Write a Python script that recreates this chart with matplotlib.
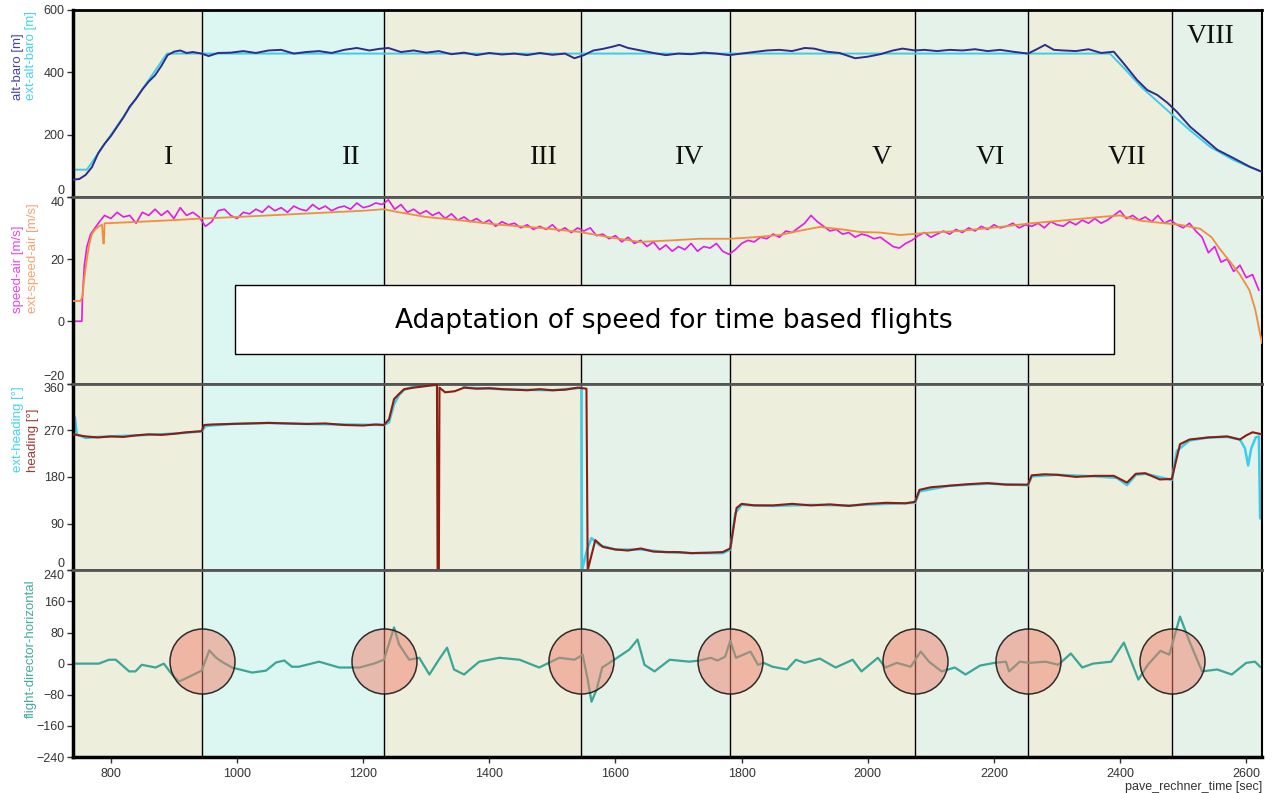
import numpy as np
import matplotlib
matplotlib.use('Agg')
import matplotlib.pyplot as plt
from matplotlib.patches import Rectangle

plt.rcParams['font.family'] = ['Liberation Sans', 'DejaVu Sans']

# ---- data ----
# phase boundaries [s] and phase names
bounds = [740, 944, 1233, 1546, 1782, 2075, 2254, 2482, 2625]
phase_names = ['I', 'II', 'III', 'IV', 'V', 'VI', 'VII', 'VIII']
phase_label_t = [892, 1181, 1487, 1717, 2022, 2194, 2411, 2543]
phase_label_v = [125, 125, 125, 125, 125, 125, 125, 514]

# altitude
t_ext_alt = [740, 762, 889, 2384, 2410, 2435, 2460, 2483, 2510, 2543, 2579, 2600, 2625]
ext_alt = [87, 87, 460, 460, 405, 350, 305, 263, 215, 160, 119, 100, 80]

t_alt = [740, 750, 760, 770, 780, 790, 800, 810, 820, 830,
         840, 850, 860, 870, 880, 890, 900, 910, 920, 930,
         944, 955, 970, 990, 1010, 1030, 1050, 1070, 1090, 1110,
         1130, 1150, 1170, 1190, 1210, 1225, 1240, 1260, 1280, 1300,
         1320, 1340, 1360, 1380, 1400, 1420, 1440, 1460, 1480, 1500,
         1520, 1535, 1550, 1565, 1580, 1595, 1606, 1620, 1640, 1660,
         1680, 1700, 1720, 1740, 1760, 1780, 1800, 1820, 1840, 1860,
         1880, 1900, 1915, 1935, 1955, 1980, 2000, 2020, 2040, 2055,
         2075, 2090, 2110, 2130, 2150, 2170, 2190, 2210, 2230, 2254,
         2268, 2281, 2295, 2310, 2330, 2350, 2370, 2390, 2405, 2427,
         2443, 2459, 2475, 2490, 2511, 2532, 2554, 2579, 2606, 2625]
alt = [55, 57, 70, 95, 140, 170, 195, 225, 255, 290,
       315, 345, 370, 390, 420, 455, 466, 470, 462, 465,
       460, 452, 462, 463, 468, 462, 470, 472, 460, 465,
       468, 462, 472, 478, 470, 475, 478, 465, 470, 463,
       468, 458, 463, 455, 462, 457, 460, 455, 462, 456,
       460, 445, 455, 470, 475, 482, 488, 478, 470, 462,
       455, 460, 458, 463, 460, 455, 460, 465, 470, 472,
       468, 478, 476, 466, 462, 445, 450, 458, 470, 476,
       470, 472, 468, 472, 470, 474, 468, 472, 466, 460,
       474, 488, 472, 470, 468, 474, 462, 466, 430, 375,
       343, 327, 302, 273, 225, 189, 151, 125, 96, 80]

# air speed
t_spd_start = [740, 754, 755, 758, 762, 768, 775, 782, 790]
spd_start = [0, 0, 8, 18, 24, 28, 30, 32, 34]
t_spd_grid = np.arange(800, 2621, 10)
spd_grid = ([33, 35, 33.5, 34, 31.5, 35, 34, 36, 34, 35.5, 33, 36.5, 34, 35, 33.5]
            + [30.5, 32, 35.5, 36, 34, 33, 35, 34.5, 36, 35, 37, 35.5, 36.5, 35, 37,
               36, 35.5, 37.5, 36, 37, 35.5, 36.5, 37, 36, 38, 36.5, 37, 38, 37.5]
            + [39, 36, 37.5, 35, 36, 34.5, 35.5, 34, 35, 33, 34.5, 32.5, 33.5, 32, 33,
               31.5, 32.5, 30.5, 32, 31, 31.5, 30, 31, 29.5, 30.5, 29.5, 31, 29, 30, 28.5, 30]
            + [29, 30, 27.5, 28, 26.5, 27.5, 25.5, 27, 25, 26, 24, 25.5,
               23, 24.5, 22.5, 24, 23, 25, 22.5, 24, 23.5, 25, 22.5, 21.5]
            + [23, 25, 26, 25.5, 27, 26.5, 28, 27, 29, 28.5, 30, 31.5, 34, 32, 30.5,
               29, 29.5, 28, 28.5, 27, 28, 27.5, 26.5, 27, 25.5, 24, 23.5, 25, 26]
            + [27.5, 28.5, 27, 28, 29, 28, 29.5, 28.5, 30, 29, 30.5, 29.5, 31, 30, 30.5, 31.5, 30, 31]
            + [30.5, 31.5, 30, 32, 31, 30.5, 32, 31, 32.5, 31.5, 33, 31.5,
               32.5, 34, 35.5, 33, 34, 32.5, 33.5, 32, 34, 31.5, 32.5]
            + [31, 30, 31.5, 29, 27, 22, 24, 19, 20, 16, 18, 14, 15, 10])

t_ext_spd = [740, 752, 755, 758, 762, 766, 770, 775, 781, 786,
             788, 789, 790, 794, 850, 900, 944, 1000, 1100, 1200,
             1232, 1257, 1300, 1350, 1416, 1480, 1543, 1590, 1638, 1690,
             1733, 1782, 1820, 1860, 1890, 1924, 1960, 1987, 2020, 2051,
             2100, 2146, 2210, 2260, 2305, 2368, 2400, 2432, 2470, 2495,
             2527, 2545, 2559, 2575, 2590, 2605, 2614, 2620, 2625]
ext_spd = [6.5, 6.5, 8, 14, 20, 25, 28, 29.5, 30.5, 31,
           25, 25, 31.5, 31.5, 32, 32.5, 33, 33.5, 34.5, 35.5,
           36, 35, 33.5, 32.5, 31, 30, 28.7, 27, 25.5, 26,
           26.5, 26.5, 27, 27.7, 29, 30.3, 29.5, 28.7, 28.5, 27.7,
           28.5, 29, 30.3, 31.5, 32.3, 33.5, 34, 32.3, 31.5, 31,
           29.7, 27, 23, 19, 15, 10, 4, -2, -7]

# heading
t_hdg = [740, 760, 780, 800, 820, 840, 860, 880, 900, 920,
         944, 948, 960, 990, 1020, 1050, 1080, 1110, 1140, 1170,
         1200, 1220, 1233, 1241, 1249, 1257, 1265, 1280, 1300, 1317,
         1318, 1320, 1321, 1330, 1345, 1360, 1380, 1400, 1420, 1440,
         1460, 1480, 1500, 1520, 1540, 1554, 1556, 1568, 1580, 1600,
         1620, 1640, 1660, 1680, 1700, 1720, 1750, 1770, 1782, 1792,
         1800, 1820, 1850, 1880, 1910, 1940, 1970, 2000, 2030, 2060,
         2075, 2082, 2100, 2130, 2160, 2190, 2220, 2254, 2260, 2280,
         2300, 2330, 2360, 2390, 2411, 2425, 2440, 2463, 2482, 2495,
         2510, 2540, 2570, 2590, 2600, 2610, 2625]
hdg = [262, 258, 256, 258, 257, 260, 262, 261, 263, 266,
       268, 280, 281, 282, 283, 284, 283, 282, 283, 280,
       279, 281, 280, 291, 330, 340, 349, 352, 355, 358,
       0, 0, 352, 343, 345, 352, 350, 351, 349, 348,
       347, 349, 347, 348, 352, 350, 0, 58, 45, 40,
       38, 42, 36, 35, 35, 33, 34, 35, 42, 120,
       128, 125, 125, 128, 125, 127, 124, 128, 130, 129,
       132, 155, 160, 163, 166, 168, 165, 165, 183, 185,
       184, 180, 182, 182, 169, 186, 187, 175, 176, 243,
       252, 256, 258, 252, 260, 266, 262]

t_ext_hdg = [740, 743, 746, 760, 780, 800, 840, 880, 920, 944,
             950, 990, 1050, 1110, 1170, 1233, 1241, 1249, 1257, 1265,
             1280, 1300, 1317, 1330, 1340, 1350, 1365, 1400, 1450, 1500,
             1540, 1546, 1547, 1555, 1562, 1575, 1600, 1640, 1680, 1720,
             1770, 1782, 1790, 1800, 1850, 1910, 1970, 2030, 2075, 2082,
             2130, 2190, 2254, 2260, 2300, 2360, 2395, 2411, 2425, 2440,
             2482, 2490, 2510, 2540, 2570, 2590, 2598, 2603, 2608, 2615,
             2620, 2622, 2625]
ext_hdg = [270, 295, 262, 255, 257, 258, 260, 262, 265, 268,
           278, 282, 284, 282, 281, 280, 285, 320, 338, 348,
           354, 356, 357, 360, 366, 362, 352, 350, 348, 347,
           351, 352, 0, 40, 62, 48, 40, 40, 35, 33,
           33, 40, 110, 126, 124, 126, 125, 128, 130, 152,
           163, 167, 164, 181, 184, 181, 178, 164, 184, 186,
           174, 230, 250, 256, 257, 252, 235, 202, 235, 256,
           258, 100, 100]

# flight director
t_fd = [740, 781, 797, 808, 829, 839, 849, 871, 884, 897,
        908, 924, 944, 956, 967, 976, 992, 1024, 1046, 1062,
        1075, 1087, 1098, 1130, 1162, 1194, 1217, 1233, 1249, 1257,
        1273, 1289, 1305, 1320, 1333, 1344, 1360, 1384, 1416, 1448,
        1479, 1511, 1535, 1548, 1556, 1562, 1570, 1579, 1598, 1622,
        1635, 1646, 1662, 1686, 1717, 1733, 1751, 1762, 1774, 1782,
        1791, 1803, 1814, 1826, 1835, 1849, 1872, 1886, 1900, 1924,
        1949, 1976, 1990, 2016, 2028, 2046, 2068, 2084, 2097, 2117,
        2138, 2155, 2178, 2201, 2219, 2224, 2241, 2256, 2282, 2302,
        2322, 2340, 2357, 2386, 2406, 2429, 2444, 2464, 2478, 2495,
        2510, 2530, 2554, 2577, 2600, 2614, 2622]
fd = [0, 0, 10, 10, -20, -20, -3, -10, 0, -28,
      -46, -34, -18, 34, 15, 5, -10, -23, -18, 3,
      8, -8, -8, 5, -10, -10, 0, 10, 93, 49,
      10, 15, -28, 10, 41, -15, -28, 5, 15, 10,
      -10, 15, 10, 23, -41, -98, -67, -10, 10, 36,
      62, -3, -20, 10, 5, 8, 15, 8, 18, 59,
      15, 23, 31, -3, 2, -8, -15, 10, 2, 13,
      -10, 10, -20, 15, -10, 2, -8, 31, 5, -20,
      -10, -28, -5, 2, 5, -20, 5, 2, 5, -3,
      26, -10, 0, 5, 54, -41, -3, 33, 23, 121,
      57, -20, -15, -28, 2, 5, -8]
circle_t = bounds[1:-1]
circle_v = 8

# ---- figure ----
W, H = 1272, 793
def fx(px):
    return px / W
def fy(py):
    return 1 - py / H

fig, axs = plt.subplots(4, 1, sharex=True, figsize=(12.72, 7.93), dpi=100,
                        gridspec_kw={'hspace': 0})
fig.subplots_adjust(left=fx(73), right=fx(1262), top=fy(10), bottom=fy(757))

seg_colors = ['#EEEEDC', '#DCF7F2', '#EEEEDC', '#E4F2EA',
              '#EEEEDC', '#E4F2EA', '#EEEEDC', '#E4F2EA']
ylims = [(0, 600), (-20, 40), (0, 360), (-240, 240)]
yticks = [[0, 200, 400, 600], [-20, 0, 20, 40], [0, 90, 180, 270, 360],
          [-240, -160, -80, 0, 80, 160, 240]]

for i, ax in enumerate(axs):
    for k in range(len(bounds) - 1):
        ax.axvspan(bounds[k], bounds[k + 1], color=seg_colors[k], lw=0, zorder=0)
    for b in bounds[1:-1]:
        ax.axvline(b, color='black', lw=1, zorder=1)
    ax.set_xlim(bounds[0], bounds[-1])
    ax.set_ylim(*ylims[i])
    ax.set_yticks(yticks[i])
    ax.tick_params(axis='y', direction='out', length=4, width=1, color='#333333',
                   labelcolor='#333333', labelsize=9, pad=2)
    ax.spines['left'].set(lw=2.5, color='black')
    ax.spines['right'].set(lw=1.5, color='black')
    ax.spines['top'].set(lw=2.0, color='black' if i == 0 else '#555555')
    ax.spines['bottom'].set(lw=2.5 if i == 3 else 2.0, color='black' if i == 3 else '#555555')
    if i < 3:
        ax.tick_params(axis='x', bottom=False)
    ticks = ax.yaxis.get_major_ticks()
    if i > 0:
        ticks[-1].label1.set_verticalalignment('top')
    if i < 3:
        ticks[0].label1.set_verticalalignment('bottom')

axs[3].set_xticks(range(800, 2601, 200))
axs[3].tick_params(axis='x', direction='out', length=4, width=1, color='#333333',
                   labelcolor='#333333', labelsize=9, pad=4)

# panel 1
ax = axs[0]
ax.plot(t_ext_alt, ext_alt, color='#3DCBEA', lw=1.4, zorder=2)
ax.plot(t_alt, alt, color='#2E2E8A', lw=1.4, zorder=3)
for name, t, v in zip(phase_names, phase_label_t, phase_label_v):
    ax.text(t, v, name, family=['Liberation Serif', 'DejaVu Serif'], fontsize=20,
            ha='center', va='center', color='#111111', zorder=4)

# panel 2
ax = axs[1]
ax.plot(list(t_spd_start) + list(t_spd_grid), spd_start + spd_grid,
        color='#E31BE3', lw=1.2, zorder=2)
ax.plot(t_ext_spd, ext_spd, color='#EE8E3E', lw=1.3, zorder=3)

# panel 3
ax = axs[2]
ax.plot(t_ext_hdg, ext_hdg, color='#3CCDEB', lw=1.8, zorder=2)
ax.plot(t_hdg, hdg, color='#8A1E12', lw=1.5, zorder=3)

# panel 4
ax = axs[3]
ax.plot(t_fd, fd, color='#3BA597', lw=1.6, zorder=2)
ax.scatter(circle_t, [circle_v] * len(circle_t), s=2190,
           facecolors=(0.94, 0.50, 0.42, 0.5), edgecolors=(0.1, 0.1, 0.1, 0.9),
           linewidths=1.1, zorder=3)

# y labels
lab = dict(rotation=90, ha='center', va='bottom', fontsize=9.5)
fig.text(fx(18), fy(100), 'alt-baro [m]', color='#4545A8', **lab)
fig.text(fx(31), fy(100), 'ext-alt-baro [m]', color='#45D2F2', **lab)
fig.text(fx(18), fy(313), 'speed-air [m/s]', color='#E845E8', **lab)
fig.text(fx(33), fy(313), 'ext-speed-air [m/s]', color='#F4A372', **lab)
fig.text(fx(18), fy(472), 'ext-heading [°]', color='#45D2F2', **lab)
fig.text(fx(33), fy(472), 'heading [°]', color='#9A3A32', **lab)
fig.text(fx(31), fy(718), 'flight-director-horizontal', color='#45AAA2', **lab)
fig.text(fx(1262), fy(787), 'pave_rechner_time [sec]', ha='right', va='center',
         fontsize=9, color='#333333')

# annotation box
fig.add_artist(Rectangle((fx(235), fy(354)), fx(1114) - fx(235), fy(285) - fy(354),
                         transform=fig.transFigure, facecolor='white',
                         edgecolor='black', lw=1, zorder=10))
fig.text(fx(674), fy(321), 'Adaptation of speed for time based flights',
         ha='center', va='center', fontsize=19, family='DejaVu Sans',
         color='black', zorder=11)

fig.savefig('out.png', dpi=100)
